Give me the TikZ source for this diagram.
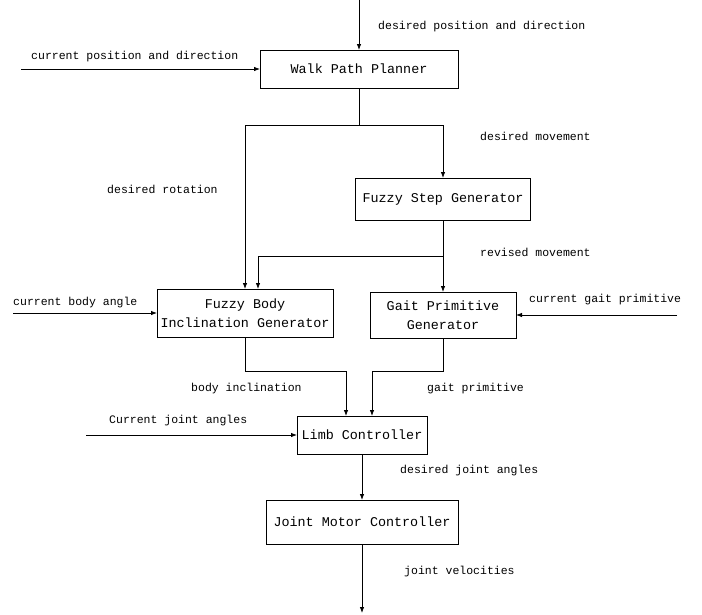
\documentclass[tikz,border=0pt]{standalone}
\usepackage{fontspec}
\setmainfont{Liberation Mono}
\usetikzlibrary{arrows.meta}
\tikzset{bloc/.style={draw,line width=0.8pt,inner sep=2pt,outer sep=0pt,align=center,font=\fontsize{13.4}{19.5}\selectfont},
lab/.style={anchor=west,inner sep=0pt,font=\fontsize{11.5}{14}\selectfont},
fl/.style={-{Latex[length=6pt,width=4.5pt]},line width=0.8pt}}

\begin{document}
\begin{tikzpicture}[x=1pt,y=-1pt]
\useasboundingbox (0,0) rectangle (702,614);
% blocs
\node[bloc,minimum width=198pt,minimum height=38pt] (wpp) at (359,69) {Walk Path Planner};
\node[bloc,minimum width=175pt,minimum height=42pt] (fsg) at (443,199) {Fuzzy Step Generator};
\node[bloc,minimum width=176pt,minimum height=48pt] (fbig) at (245,313) {Fuzzy Body\\Inclination Generator};
\node[bloc,minimum width=146pt,minimum height=46pt] (gpg) at (443,315) {Gait Primitive\\Generator};
\node[bloc,minimum width=130pt,minimum height=38pt] (lc) at (362,435) {Limb Controller};
\node[bloc,minimum width=192pt,minimum height=44pt] (jmc) at (362,522) {Joint Motor Controller};

% entrees et sorties
\coordinate (in1) at (359,0);
\coordinate (in2) at (21,69);
\coordinate (in3) at (13,313);
\coordinate (in4) at (677,315);
\coordinate (in5) at (86,435);
\coordinate (out) at (362,613);
\coordinate (j1) at (359,125);
\coordinate (j2) at (443,256);

\draw[fl] (in1) -- (wpp.north);
\draw[fl] (in2) -- (wpp.west);
\draw[line width=0.8pt] (wpp.south) -- (j1);
\draw[fl] (j1) -| (fbig.north);
\draw[fl] (j1) -| (fsg.north);
\draw[fl] (fsg.south) -- (gpg.north);
\draw[fl] (j2) -| ([xshift=13pt]fbig.north);
\draw[fl] (in3) -- (fbig.west);
\draw[fl] (in4) -- (gpg.east);
\draw[fl] (fbig.south) |- (346,371) -- ([xshift=-16pt]lc.north);
\draw[fl] (gpg.south) |- (372,371) -- ([xshift=10pt]lc.north);
\draw[fl] (in5) -- (lc.west);
\draw[fl] (lc.south) -- (jmc.north);
\draw[fl] (jmc.south) -- (out);

% textes
\node[lab] (t1) at (378,27) {desired position and direction};
\node[lab] (t2) at (31,57) {current position and direction};
\node[lab] (t3) at (480,136) {desired movement};
\node[lab] (t4) at (107,189) {desired rotation};
\node[lab] (t5) at (480,252) {revised movement};
\node[lab] (t6) at (13,303) {current body angle};
\node[lab] (t7) at (529,300) {current gait primitive};
\node[lab] (t8) at (191,389) {body inclination};
\node[lab] (t9) at (427,389) {gait primitive};
\node[lab] (t10) at (109,421) {Current joint angles};
\node[lab] (t11) at (400,471) {desired joint angles};
\node[lab] (t12) at (404,572) {joint velocities};
\end{tikzpicture}
\end{document}
